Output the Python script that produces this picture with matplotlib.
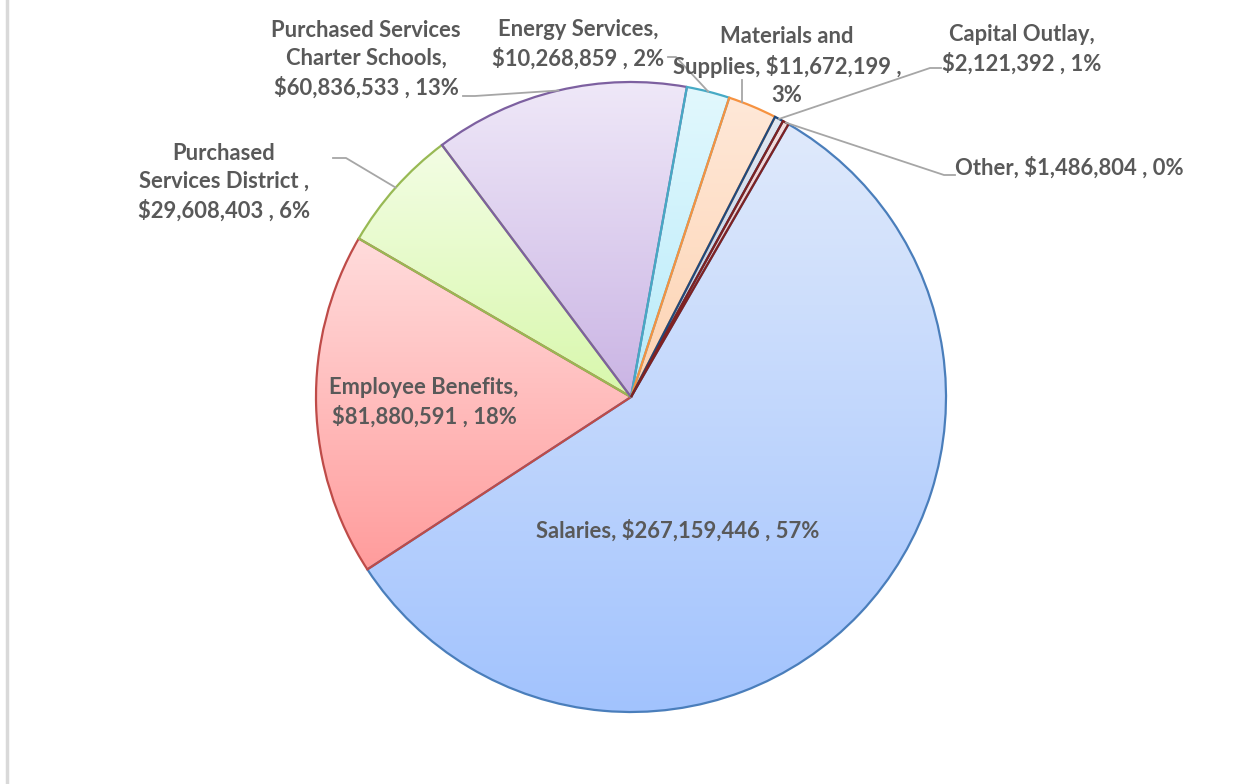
import numpy as np
import matplotlib.pyplot as plt
from matplotlib.colors import to_rgb

# budget categories (line breaks as they appear in the chart labels)
categories = ["Salaries", "Employee Benefits", "Purchased\nServices District ",
              "Purchased Services\nCharter Schools", "Energy Services",
              "Materials and\nSupplies", "Capital Outlay", "Other"]
amounts = [267159446, 81880591, 29608403, 60836533, 10268859, 11672199, 2121392, 1486804]
percents = [57, 18, 6, 13, 2, 3, 1, 0]
sep_name = [" ", "\n", "\n", "\n", "\n", " ", "\n", " "]
sep_pct = [" ", " ", " ", " ", " ", "\n", " ", " "]

edge_colors = ["#4a7ebb", "#be4b48", "#98b954", "#7d60a0", "#46aac5", "#f69240", "#1f497d", "#7f2222"]
top_colors = ["#e0eafb", "#ffdcdc", "#f3fde4", "#efe8f8", "#e2f8fd", "#ffe8d8", "#e0e8f3", "#f5e0e0"]
bottom_colors = ["#a2c3fe", "#ff9c9c", "#d8f8ac", "#cab4e4", "#b8ebfa", "#fdd3b2", "#b8cae2", "#e0b0b0"]

W, H = 1250, 784
fig = plt.figure(figsize=(12.5, 7.84), dpi=100)
ax = fig.add_axes([0, 0, 1, 1])

cx, cy, r = 631, H - 397, 315
wedges, _ = ax.pie(amounts, startangle=60, counterclock=False, center=(cx, cy), radius=r,
                   wedgeprops=dict(linewidth=1.6, facecolor="none"), frame=True)

# gradient fill clipped to each slice
for w, ec, ct, cb in zip(wedges, edge_colors, top_colors, bottom_colors):
    w.set_edgecolor(ec)
    w.set_zorder(3)
    ext = w.get_path().get_extents()
    t = np.linspace(0, 1, 256)[:, None, None]
    grad = np.array(to_rgb(cb))[None, None, :] * (1 - t) + np.array(to_rgb(ct))[None, None, :] * t
    grad = np.repeat(grad, 2, axis=1)
    im = ax.imshow(grad, extent=(ext.x0, ext.x1, ext.y0, ext.y1), origin="lower",
                   interpolation="bicubic", aspect="auto", zorder=2)
    im.set_clip_path(w)

ax.set_xlim(0, W)
ax.set_ylim(0, H)
ax.set_aspect("equal")
ax.axis("off")

labels = [f"{c},{s1}${a:,} ,{s2}{p}%" for c, a, p, s1, s2 in
          zip(categories, amounts, percents, sep_name, sep_pct)]

# label positions in pixels (x, y from top) as placed in the original chart
label_pos = [(678, 531), (424, 402), (224, 182), (366, 59), (578, 44),
             (787, 66), (1022, 49), (1069, 168)]
# leader line points at the label end; None = label inside the slice
leader_start = [None, None, [(333, 158), (346, 158)], [(463, 96), (475, 96)],
                [(668, 57), (676, 57)], "vertical", [(941, 68), (930, 68)],
                [(955, 175), (944, 175)]]

for w, lab, pos, ls in zip(wedges, labels, label_pos, leader_start):
    mid = np.deg2rad((w.theta1 + w.theta2) / 2)
    ex, ey = cx + r * np.cos(mid), cy + r * np.sin(mid)
    if ls == "vertical":
        vx = 742
        vy = cy + np.sqrt(r ** 2 - (vx - cx) ** 2)
        ax.plot([vx, vx], [H - 80, vy], color="#a6a6a6", lw=1.3, zorder=4)
    elif ls is not None:
        xs = [p[0] for p in ls] + [ex]
        ys = [H - p[1] for p in ls] + [ey]
        ax.plot(xs, ys, color="#a6a6a6", lw=1.3, zorder=4)
    ax.text(pos[0], H - pos[1], lab, ha="center", va="center", ma="center",
            fontsize=15.8, fontweight="bold", family=["Lato", "DejaVu Sans"],
            color="#595959", linespacing=1.4, zorder=5)

# left border of the chart area
ax.plot([7, 7], [0, H], color="#d9d9d9", lw=2.5, zorder=1)

fig.savefig("out.png", dpi=100)
